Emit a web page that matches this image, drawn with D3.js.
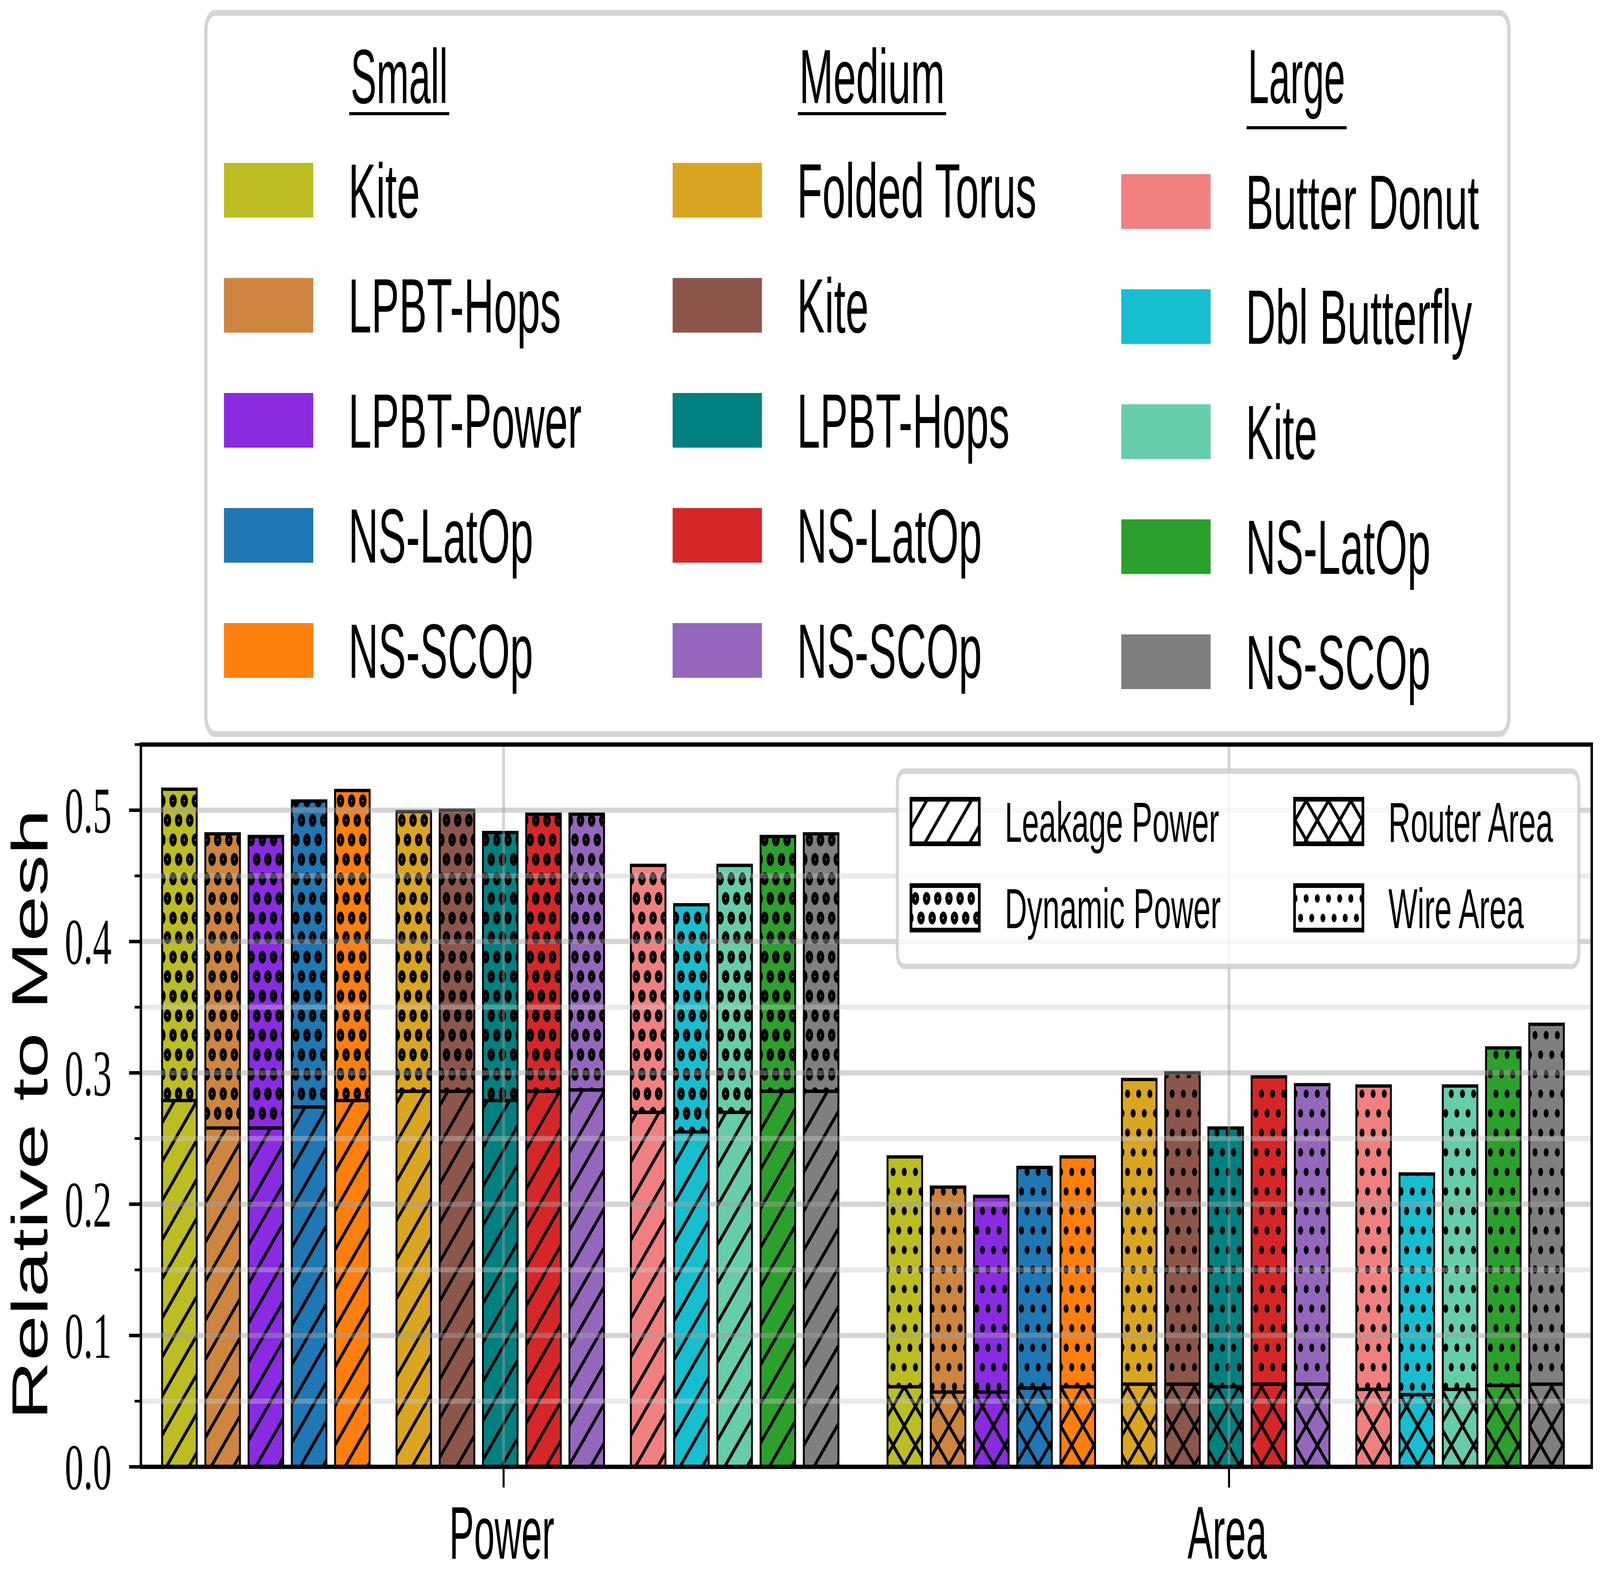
<!DOCTYPE html>
<html>
<head>
<meta charset="utf-8">
<script src="https://cdn.jsdelivr.net/npm/d3@7"></script>
<style>
  html, body { margin: 0; padding: 0; background: #fff; overflow: hidden; }
  svg { display: block; width: 100vw; height: 100vh; }
</style>
</head>
<body>
<svg id="chart"></svg>
<script>
// ---- data ----
const groups = ['Small', 'Medium', 'Large'];
const topologies = [
  ['Kite', 'LPBT-Hops', 'LPBT-Power', 'NS-LatOp', 'NS-SCOp'],
  ['Folded Torus', 'Kite', 'LPBT-Hops', 'NS-LatOp', 'NS-SCOp'],
  ['Butter Donut', 'Dbl Butterfly', 'Kite', 'NS-LatOp', 'NS-SCOp']
];
const colors = [
  ['#bcbd22', '#cd853f', '#8a2be2', '#1f77b4', '#ff7f0e'],
  ['#daa520', '#8c564b', '#008080', '#d62728', '#9467bd'],
  ['#f08080', '#17becf', '#66cdaa', '#2ca02c', '#7f7f7f']
];
const metrics = ['Power', 'Area'];

const leakagePower = [
  [0.279, 0.258, 0.258, 0.274, 0.279],
  [0.286, 0.286, 0.279, 0.286, 0.287],
  [0.270, 0.255, 0.270, 0.286, 0.286]
];
const totalPower = [
  [0.516, 0.482, 0.480, 0.507, 0.515],
  [0.499, 0.500, 0.483, 0.497, 0.497],
  [0.458, 0.428, 0.458, 0.480, 0.482]
];
const routerArea = [
  [0.061, 0.057, 0.057, 0.060, 0.061],
  [0.063, 0.063, 0.061, 0.063, 0.063],
  [0.059, 0.055, 0.059, 0.062, 0.063]
];
const totalArea = [
  [0.236, 0.213, 0.206, 0.228, 0.236],
  [0.295, 0.300, 0.258, 0.297, 0.291],
  [0.290, 0.223, 0.290, 0.319, 0.337]
];

const yMajor = [0, 0.1, 0.2, 0.3, 0.4, 0.5];
const yMinor = [0.05, 0.15, 0.25, 0.35, 0.45, 0.55];
const hatchItems = [
  { label: 'Leakage Power', pattern: 'slash' },
  { label: 'Dynamic Power', pattern: 'rings' },
  { label: 'Router Area', pattern: 'cross' },
  { label: 'Wire Area', pattern: 'dots' }
];

// ---- layout ----
const width = 7166, height = 4037;
const plot = { left: 631, right: 7129, top: 1906, bottom: 3755 };
const barStep = 0.0596, groupStep = 0.3231, barWidth = 0.0477, midShift = -0.0046;

// the drawing is laid out on a 7166x4037 canvas and stretched to fill the window
const svg = d3.select('#chart')
  .attr('viewBox', `0 0 ${width} ${height}`)
  .attr('preserveAspectRatio', 'none');
svg.append('rect').attr('width', width).attr('height', height).attr('fill', '#fff');

const x = d3.scaleLinear().domain([-0.5, 1.5]).range([plot.left, plot.right]);
const y = d3.scaleLinear().domain([0, 0.55]).range([plot.bottom, plot.top]);

// hatch patterns (black strokes on transparent, laid over the colour fill)
const defs = svg.append('defs');
const hw = 11;
defs.append('pattern').attr('id', 'slash').attr('patternUnits', 'userSpaceOnUse')
  .attr('width', 100).attr('height', 100)
  .append('path').attr('d', 'M-50,50L50,-50M-50,150L150,-50M50,150L150,50')
  .attr('stroke', '#000').attr('stroke-width', hw);
defs.append('pattern').attr('id', 'cross').attr('patternUnits', 'userSpaceOnUse')
  .attr('width', 100).attr('height', 100)
  .append('path').attr('d', 'M-50,50L50,-50M-50,150L150,-50M50,150L150,50M-50,-50L150,150M50,-50L150,50M-50,50L50,150')
  .attr('stroke', '#000').attr('stroke-width', hw);
const ringPts = [[0, 0], [50, 0], [25, 50], [0, 100], [50, 100]];
const rings = defs.append('pattern').attr('id', 'rings').attr('patternUnits', 'userSpaceOnUse')
  .attr('width', 50).attr('height', 100);
rings.selectAll('circle').data(ringPts).join('circle')
  .attr('cx', d => d[0]).attr('cy', d => d[1]).attr('r', 9.5)
  .attr('fill', 'none').attr('stroke', '#000').attr('stroke-width', 14);
const dots = defs.append('pattern').attr('id', 'dots').attr('patternUnits', 'userSpaceOnUse')
  .attr('width', 50).attr('height', 100);
dots.selectAll('circle').data(ringPts).join('circle')
  .attr('cx', d => d[0]).attr('cy', d => d[1]).attr('r', 11).attr('fill', '#000');

// ---- bars ----
const segments = [];
metrics.forEach((m, c) => {
  groups.forEach((g, gi) => {
    topologies[gi].forEach((t, i) => {
      const pos = c + midShift + (gi - 1) * groupStep + (i - 2) * barStep;
      const low = c === 0 ? leakagePower[gi][i] : routerArea[gi][i];
      const tot = c === 0 ? totalPower[gi][i] : totalArea[gi][i];
      segments.push({ pos, y0: 0, y1: low, color: colors[gi][i], pattern: c === 0 ? 'slash' : 'cross' });
      segments.push({ pos, y0: low, y1: tot, color: colors[gi][i], pattern: c === 0 ? 'rings' : 'dots' });
    });
  });
});

const barW = x(barWidth) - x(0);
const bars = svg.append('g').attr('id', 'bars');
const segG = bars.selectAll('g').data(segments).join('g');
segG.append('rect')
  .attr('x', d => x(d.pos) - barW / 2).attr('width', barW)
  .attr('y', d => y(d.y1)).attr('height', d => y(d.y0) - y(d.y1))
  .attr('fill', d => d.color);
segG.append('rect')
  .attr('x', d => x(d.pos) - barW / 2).attr('width', barW)
  .attr('y', d => y(d.y1)).attr('height', d => y(d.y0) - y(d.y1))
  .attr('fill', d => `url(#${d.pattern})`);
segG.append('rect')
  .attr('x', d => x(d.pos) - barW / 2).attr('width', barW)
  .attr('y', d => y(d.y1)).attr('height', d => y(d.y0) - y(d.y1))
  .attr('fill', 'none').attr('stroke', '#000').attr('stroke-width', 8.5);

// ---- grid (drawn over the bars) ----
const grid = svg.append('g').attr('id', 'grid');
grid.selectAll('line.minor').data(yMinor.filter(v => v < 0.55)).join('line').attr('class', 'minor')
  .attr('x1', plot.left).attr('x2', plot.right)
  .attr('y1', d => y(d)).attr('y2', d => y(d))
  .attr('stroke', '#c8c8c8').attr('stroke-opacity', 0.4).attr('stroke-width', 13);
grid.selectAll('line.major').data(yMajor.filter(v => v > 0)).join('line').attr('class', 'major')
  .attr('x1', plot.left).attr('x2', plot.right)
  .attr('y1', d => y(d)).attr('y2', d => y(d))
  .attr('stroke', '#a0a0a0').attr('stroke-opacity', 0.45).attr('stroke-width', 13);
grid.selectAll('line.vert').data(metrics).join('line').attr('class', 'vert')
  .attr('x1', (d, i) => x(i)).attr('x2', (d, i) => x(i))
  .attr('y1', plot.top).attr('y2', plot.bottom)
  .attr('stroke', '#a0a0a0').attr('stroke-opacity', 0.45).attr('stroke-width', 13);

// ---- inner hatch legend ----
const fontSans = '"Liberation Sans", Arial, sans-serif';
function squeeze(sel, f) {
  sel.each(function () {
    const L = this.getComputedTextLength();
    d3.select(this).attr('textLength', L * f).attr('lengthAdjust', 'spacingAndGlyphs');
  });
}

const hl = svg.append('g').attr('id', 'hatch-legend');
hl.append('rect').attr('x', 4019).attr('y', 1974).attr('width', 3052).attr('height', 500)
  .attr('rx', 32).attr('fill', '#fff').attr('fill-opacity', 0.8)
  .attr('stroke', '#cccccc').attr('stroke-opacity', 0.8).attr('stroke-width', 14);
const hlCols = [4080, 5798], hlRows = [2103, 2324];
hatchItems.forEach((h, k) => {
  const cx = hlCols[Math.floor(k / 2)], cy = hlRows[k % 2];
  hl.append('rect').attr('x', cx).attr('y', cy - 57).attr('width', 306).attr('height', 114)
    .attr('fill', '#fff');
  hl.append('rect').attr('x', cx).attr('y', cy - 57).attr('width', 306).attr('height', 114)
    .attr('fill', `url(#${h.pattern})`).attr('stroke', '#000').attr('stroke-width', 12);
  hl.append('text').attr('x', cx + 420).attr('y', cy + 52)
    .attr('font-family', fontSans).attr('font-size', 144).text(h.label)
    .call(squeeze, 0.96);
});

// ---- axes ----
const axes = svg.append('g').attr('id', 'axes');
axes.append('rect').attr('x', plot.left).attr('y', plot.top)
  .attr('width', plot.right - plot.left).attr('height', plot.bottom - plot.top)
  .attr('fill', 'none').attr('stroke', '#000').attr('stroke-width', 11);
axes.selectAll('line.ymaj').data(yMajor).join('line').attr('class', 'ymaj')
  .attr('x1', plot.left - 53).attr('x2', plot.left)
  .attr('y1', d => y(d)).attr('y2', d => y(d))
  .attr('stroke', '#000').attr('stroke-width', 9);
axes.selectAll('line.ymin').data(yMinor).join('line').attr('class', 'ymin')
  .attr('x1', plot.left - 28).attr('x2', plot.left)
  .attr('y1', d => y(d)).attr('y2', d => y(d))
  .attr('stroke', '#000').attr('stroke-width', 7);
axes.selectAll('text.ytick').data(yMajor).join('text').attr('class', 'ytick')
  .attr('x', 500).attr('y', d => y(d)).attr('dy', '0.34em')
  .attr('text-anchor', 'end')
  .attr('font-family', '"Liberation Serif", "Times New Roman", serif').attr('font-size', 168)
  .text(d => d.toFixed(1));
axes.selectAll('line.xtick').data(metrics).join('line').attr('class', 'xtick')
  .attr('x1', (d, i) => x(i)).attr('x2', (d, i) => x(i))
  .attr('y1', plot.bottom).attr('y2', plot.bottom + 53)
  .attr('stroke', '#000').attr('stroke-width', 9);
const xLabelWidths = [471, 355];
axes.selectAll('text.xlab').data(metrics).join('text').attr('class', 'xlab')
  .attr('x', (d, i) => x(i) - 8).attr('y', 3990)
  .attr('text-anchor', 'middle')
  .attr('font-family', fontSans).attr('font-size', 192)
  .attr('textLength', (d, i) => xLabelWidths[i]).attr('lengthAdjust', 'spacingAndGlyphs')
  .text(d => d);
axes.append('text')
  .attr('transform', `translate(212,${(plot.top + plot.bottom) / 2 + 23}) rotate(-90)`)
  .attr('text-anchor', 'middle')
  .attr('font-family', fontSans).attr('font-size', 228)
  .attr('textLength', 1564).attr('lengthAdjust', 'spacingAndGlyphs')
  .text('Relative to Mesh');

// ---- top colour legend ----
const tl = svg.append('g').attr('id', 'topology-legend');
tl.append('rect').attr('x', 922).attr('y', 33).attr('width', 5836).attr('height', 1846)
  .attr('rx', 42).attr('fill', '#fff')
  .attr('stroke', '#d5d5d5').attr('stroke-width', 15);
const colStep = 2009.5, rowStep = 294.5;
const titleWidths = [436, 652, 436];
groups.forEach((g, gi) => {
  const px = 1003 + gi * colStep, tx = 1560 + gi * colStep;
  const shift = gi === 2 ? 29 : 0;
  tl.append('text').attr('x', tx + 10).attr('y', 264)
    .attr('font-family', fontSans).attr('font-size', 196)
    .attr('textLength', titleWidths[gi]).attr('lengthAdjust', 'spacingAndGlyphs')
    .text(g);
  tl.append('line').attr('x1', tx + 4).attr('x2', tx + 16 + titleWidths[gi])
    .attr('y1', 291 + (gi === 2 ? 36 : 0)).attr('y2', 291 + (gi === 2 ? 36 : 0))
    .attr('stroke', '#000').attr('stroke-width', 8);
  topologies[gi].forEach((t, i) => {
    const cy = 487 + i * rowStep + shift;
    tl.append('rect').attr('x', px).attr('y', cy - 70).attr('width', 400).attr('height', 140)
      .attr('fill', colors[gi][i]);
    tl.append('text').attr('x', tx).attr('y', cy + 70)
      .attr('font-family', fontSans).attr('font-size', 196).text(t)
      .call(squeeze, 0.95);
  });
});
</script>
</body>
</html>
